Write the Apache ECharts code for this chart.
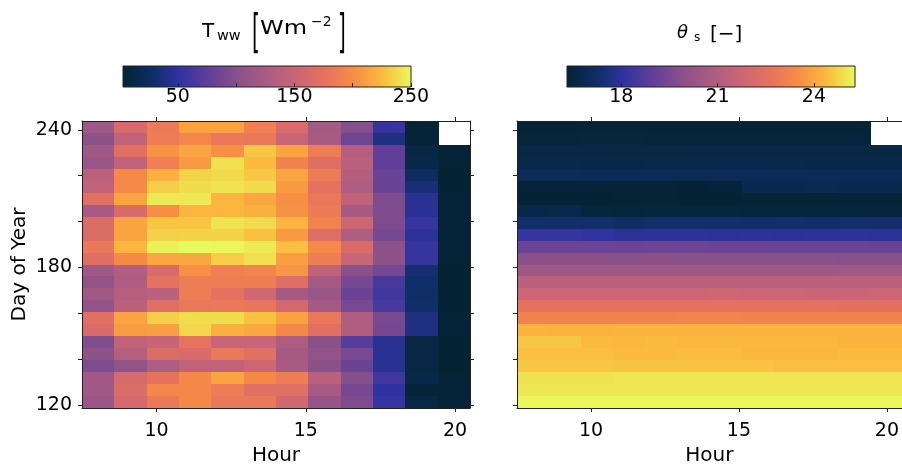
<!DOCTYPE html>
<html><head><meta charset="utf-8">
<script src="https://cdn.jsdelivr.net/npm/echarts@6/dist/echarts.min.js"></script>
<style>html,body{margin:0;padding:0;background:#fff}#c{width:902px;height:472px}</style>
</head><body><div id="c"></div>
<script>
// ---- data ----
const hours = [8.04, 9.13, 10.21, 11.29, 12.38, 13.46, 14.54, 15.63, 16.71, 17.79, 18.88, 19.96];
const hourHalf = 0.5417;
const days = [241.29, 236.07, 230.85, 225.63, 220.41, 215.18, 209.96, 204.74, 199.52, 194.30, 189.08, 183.86,
              178.64, 173.42, 168.20, 162.98, 157.76, 152.54, 147.32, 142.09, 136.87, 131.65, 126.43, 121.21];
const dayHalf = 2.61;
const hourRange = [7.5, 20.5];
const dayRange = [118.6, 243.9];
const hourTicks = [10, 15, 20];
const dayTicks = [120, 140, 160, 180, 200, 220, 240];
const dayLabels = [120, 180, 240];
const twwRange = [3, 250];
const twwTicks = [50, 100, 150, 200, 250];
const twwLabels = [50, 150, 250];
const thetaRange = [16.31, 25.28];
const thetaTicks = [18, 21, 24];

// T_ww [W m^-2], rows top (late day) to bottom, columns hour bins
const tww = [
  [117,162,185,212,212,189,164,122,99,55,5,null],
  [104,144,186,194,182,181,150,125,85,40,5,null],
  [119,172,204,214,202,230,213,186,134,77,12,5],
  [114,144,189,208,240,225,191,170,140,77,15,5],
  [139,197,219,235,238,230,213,185,134,82,25,3],
  [144,197,233,239,241,238,208,176,130,83,35,3],
  [173,213,243,243,223,215,202,181,143,94,47,5],
  [124,164,201,223,223,220,203,185,123,94,47,5],
  [167,213,229,229,241,238,222,191,154,94,55,5],
  [167,213,234,235,235,228,208,168,129,89,49,5],
  [182,223,246,250,249,244,227,197,165,104,55,5],
  [170,198,215,215,233,240,210,187,150,104,55,5],
  [119,133,165,202,189,193,206,144,102,89,33,3],
  [108,129,176,187,187,187,170,122,89,64,30,3],
  [119,134,139,186,176,157,123,114,83,60,29,3],
  [109,140,171,181,182,180,159,123,91,64,30,3],
  [173,213,233,239,239,228,212,182,131,91,40,5],
  [164,209,210,236,220,215,196,173,131,89,40,5],
  [96,144,149,177,150,150,129,102,72,47,12,3],
  [104,134,167,164,182,171,123,108,91,47,12,3],
  [94,108,129,144,144,154,125,102,83,47,12,3],
  [119,162,176,196,213,196,186,140,99,60,15,5],
  [119,166,196,196,186,171,171,125,89,52,6,5],
  [114,159,182,196,182,182,157,110,94,55,12,5]
];
// theta_s [-]
const theta = [
  [16.42,16.42,16.40,16.40,16.40,16.38,16.38,16.38,16.38,16.40,16.40,null],
  [16.50,16.50,16.52,16.52,16.50,16.50,16.50,16.48,16.48,16.50,16.50,null],
  [16.64,16.64,16.62,16.60,16.60,16.62,16.62,16.62,16.62,16.62,16.64,16.64],
  [16.76,16.76,16.74,16.74,16.76,16.76,16.78,16.78,16.76,16.74,16.74,16.74],
  [17.02,17.00,16.98,16.98,16.98,16.98,16.96,16.96,16.94,16.94,16.94,16.94],
  [16.40,16.40,16.40,16.38,16.38,16.34,16.42,16.82,16.84,16.86,16.84,16.84],
  [16.33,16.35,16.35,16.36,16.36,16.33,16.34,16.36,16.36,16.36,16.38,16.38],
  [16.72,16.76,16.52,16.50,16.52,16.52,16.52,16.50,16.48,16.50,16.50,16.48],
  [17.30,17.30,17.30,17.22,17.30,17.30,17.30,17.28,17.30,17.28,17.30,17.32],
  [18.20,18.20,18.10,17.98,17.98,17.98,17.96,17.98,17.96,17.98,17.98,17.96],
  [19.18,19.18,19.18,19.22,19.26,19.24,19.22,19.20,19.18,19.18,19.18,19.16],
  [19.90,19.90,19.90,19.90,19.90,19.88,19.88,19.88,19.88,19.88,19.86,19.86],
  [20.44,20.44,20.44,20.50,20.46,20.44,20.44,20.44,20.46,20.46,20.52,20.52],
  [21.30,21.30,21.28,21.28,21.28,21.30,21.30,21.28,21.28,21.26,21.28,21.28],
  [21.78,21.78,21.78,21.78,21.78,21.78,21.80,21.78,21.74,21.66,21.66,21.78],
  [22.59,22.59,22.59,22.59,22.59,22.59,22.59,22.59,22.59,22.59,22.55,22.55],
  [23.20,23.20,23.18,23.20,23.20,23.22,23.22,23.20,23.20,23.20,23.20,23.20],
  [24.25,24.22,24.22,24.25,24.25,24.25,24.25,24.25,24.25,24.25,24.25,24.25],
  [24.56,24.56,24.36,24.34,24.40,24.34,24.34,24.34,24.34,24.34,24.24,24.24],
  [24.45,24.45,24.45,24.40,24.40,24.42,24.42,24.30,24.30,24.30,24.38,24.36],
  [24.56,24.56,24.56,24.54,24.54,24.52,24.52,24.52,24.45,24.45,24.45,24.45],
  [24.95,24.95,24.95,24.97,24.97,24.97,24.97,24.97,24.97,24.97,24.97,24.97],
  [25.00,25.00,25.00,25.02,25.02,25.02,25.02,25.02,25.00,25.00,25.00,25.00],
  [25.24,25.24,25.24,25.24,25.24,25.24,25.24,25.24,25.24,25.24,25.24,25.24]
];

const thermal = ['#042333','#0d2e63','#3133a0','#613f98','#8a5189','#aa5c82','#ca6576','#e5725f','#f78d44','#fbba3e','#e8fa5b'];

// ---- build ----
function toCells(mat) {
  const out = [];
  for (let r = 0; r < days.length; r++)
    for (let c = 0; c < hours.length; c++)
      if (mat[r][c] != null) out.push([hours[c], days[r], mat[r][c]]);
  return out;
}
function cellItem(params, api) {
  const a = api.coord([api.value(0) - hourHalf, api.value(1) + dayHalf]);
  const b = api.coord([api.value(0) + hourHalf, api.value(1) - dayHalf]);
  const x0 = Math.round(a[0]), y0 = Math.round(a[1]);
  const x1 = Math.round(b[0]), y1 = Math.round(b[1]);
  return {type: 'rect', shape: {x: x0, y: y0, width: x1 - x0 + 1, height: y1 - y0 + 1},
          style: {fill: api.visual('color')}};
}
const stops = thermal.map((c, i) => ({offset: i / (thermal.length - 1), color: c}));
function barItem(params, api) {
  const a = api.coord([api.value(0), 1]);
  const b = api.coord([api.value(1), 0]);
  return {type: 'rect', shape: {x: a[0], y: a[1], width: b[0] - a[0], height: b[1] - a[1]},
          style: {fill: {type: 'linear', x: 0, y: 0, x2: 1, y2: 0, colorStops: stops},
                  stroke: '#222', lineWidth: 1}};
}

const FONT = 'DejaVu Sans';
const lineC = '#222';
function ax(extra) {
  return Object.assign({
    type: 'value', z: 10,
    axisLine: {show: true, onZero: false, lineStyle: {color: lineC, width: 1}},
    splitLine: {show: false},
    axisTick: {show: true, length: 4, lineStyle: {color: lineC, width: 1}},
    axisLabel: {show: false}
  }, extra);
}
function ticks(vals, inside, len) {
  return {show: true, inside: !!inside, length: len || 4, customValues: vals, lineStyle: {color: lineC, width: 1}};
}
function labels(vals, margin) {
  return {show: true, customValues: vals, margin: margin, fontSize: 19, color: '#000', fontFamily: FONT,
          showMinLabel: true, showMaxLabel: true, hideOverlap: false};
}
function txt(x, y, text, size, extra, tf) {
  return Object.assign({type: 'text', x: x, y: y,
    style: Object.assign({text: text, fontSize: size, fontFamily: FONT, fill: '#000', verticalAlign: 'middle'}, extra || {})}, tf || {});
}

const option = {
  animation: false,
  textStyle: {fontFamily: FONT},
  grid: [
    {left: 82, top: 121, width: 388, height: 287},
    {left: 517, top: 121, width: 388, height: 287},
    {left: 123, top: 66, width: 288, height: 21},
    {left: 567, top: 66, width: 288, height: 21}
  ],
  xAxis: [
    ax({gridIndex: 0, position: 'bottom', min: hourRange[0], max: hourRange[1], axisTick: ticks(hourTicks), axisLabel: labels(hourTicks, 14),
        name: 'Hour', nameLocation: 'middle', nameGap: 38, nameTextStyle: {fontSize: 20, color: '#000', fontFamily: FONT}}),
    ax({gridIndex: 0, position: 'top', min: hourRange[0], max: hourRange[1], axisTick: ticks(hourTicks)}),
    ax({gridIndex: 1, position: 'bottom', min: hourRange[0], max: hourRange[1], axisTick: ticks(hourTicks), axisLabel: labels(hourTicks, 14),
        name: 'Hour', nameLocation: 'middle', nameGap: 38, nameTextStyle: {fontSize: 20, color: '#000', fontFamily: FONT}}),
    ax({gridIndex: 1, position: 'top', min: hourRange[0], max: hourRange[1], axisTick: ticks(hourTicks)}),
    ax({gridIndex: 2, position: 'bottom', min: twwRange[0], max: twwRange[1], axisLine: {show: false}, axisTick: ticks(twwTicks, true, 4), axisLabel: labels(twwLabels, 1)}),
    ax({gridIndex: 3, position: 'bottom', min: thetaRange[0], max: thetaRange[1], axisLine: {show: false}, axisTick: ticks(thetaTicks, true, 4), axisLabel: labels(thetaTicks, 1)})
  ],
  yAxis: [
    ax({gridIndex: 0, position: 'left', min: dayRange[0], max: dayRange[1], axisTick: ticks(dayTicks), axisLabel: labels(dayLabels, 10),
        name: 'Day of Year', nameLocation: 'middle', nameGap: 52, nameRotate: 90, nameTextStyle: {fontSize: 20, color: '#000', fontFamily: FONT}}),
    ax({gridIndex: 0, position: 'right', min: dayRange[0], max: dayRange[1], axisTick: ticks(dayTicks)}),
    ax({gridIndex: 1, position: 'left', min: dayRange[0], max: dayRange[1], axisTick: ticks(dayTicks)}),
    ax({gridIndex: 2, min: 0, max: 1, show: false}),
    ax({gridIndex: 3, min: 0, max: 1, show: false})
  ],
  visualMap: [
    {type: 'continuous', show: false, seriesIndex: 0, dimension: 2, min: twwRange[0], max: twwRange[1], inRange: {color: thermal}},
    {type: 'continuous', show: false, seriesIndex: 1, dimension: 2, min: thetaRange[0], max: thetaRange[1], inRange: {color: thermal}}
  ],
  series: [
    {type: 'custom', name: 'T_ww', xAxisIndex: 0, yAxisIndex: 0, clip: true, renderItem: cellItem, data: toCells(tww), encode: {x: 0, y: 1}},
    {type: 'custom', name: 'theta_s', xAxisIndex: 2, yAxisIndex: 2, clip: true, renderItem: cellItem, data: toCells(theta), encode: {x: 0, y: 1}},
    {type: 'custom', xAxisIndex: 4, yAxisIndex: 3, renderItem: barItem, data: [twwRange], encode: {x: [0, 1]}},
    {type: 'custom', xAxisIndex: 5, yAxisIndex: 4, renderItem: barItem, data: [thetaRange], encode: {x: [0, 1]}}
  ],
  graphic: [
    txt(202, 31.4, 'T', 20),
    txt(217, 36.7, 'ww', 14.5),
    txt(252, 35, '[', 20, null, {scaleY: 2.28, originX: 0, originY: 0}),
    txt(260, 28.8, 'Wm', 20, null, {scaleX: 1.2, originX: 0, originY: 0}),
    txt(311, 22.5, '−2', 14),
    txt(338, 35, ']', 20, null, {scaleY: 2.28, originX: 0, originY: 0}),
    txt(677, 33.8, 'θ', 18, {fontStyle: 'italic'}),
    txt(694, 37.5, 's', 12),
    txt(710, 34.3, '[−]', 20)
  ]
};
echarts.init(document.getElementById('c'), null, {renderer: 'canvas'}).setOption(option);
</script>
</body></html>
